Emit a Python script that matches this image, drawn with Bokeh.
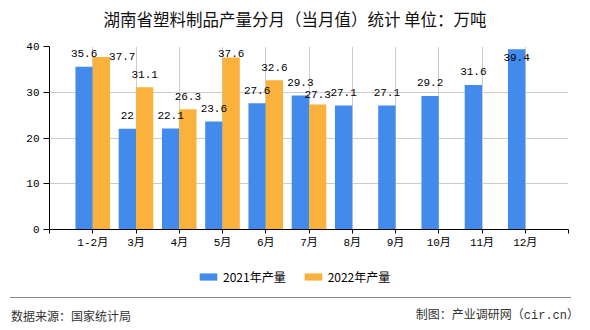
import numpy as np
from bokeh.plotting import figure
from bokeh.layouts import column
from bokeh.models import (ColumnDataSource, LabelSet, Legend, LegendItem, FixedTicker, Div)
from bokeh.core.properties import value
from bokeh.embed import file_html
from bokeh.resources import INLINE

# ---------------- data ----------------
categories = ["1-2月", "3月", "4月", "5月", "6月", "7月", "8月", "9月", "10月", "11月", "12月"]
values_2021 = [35.6, 22.0, 22.1, 23.6, 27.6, 29.3, 27.1, 27.1, 29.2, 31.6, 39.4]
values_2022 = [37.7, 31.1, 26.3, 37.6, 32.6, 27.3]
labels_2021 = ["35.6", "22", "22.1", "23.6", "27.6", "29.3", "27.1", "27.1", "29.2", "31.6", "39.4"]
labels_2022 = ["37.7", "31.1", "26.3", "37.6", "32.6", "27.3"]
series_names = ["2021年产量", "2022年产量"]
y_ticks = [0, 10, 20, 30, 40]
title_text = "湖南省塑料制品产量分月（当月值）统计 单位：万吨"
source_text = "数据来源：国家统计局"
credit_text = "制图：产业调研网（cir.cn）"

# ---------------- layout ----------------
W = 590
HEAD_H = 36
LEFT, RIGHT, TOP_B, BOTTOM_B = 49, 22, 10, 25
FRAME_H = 183
MAIN_H = TOP_B + FRAME_H + BOTTOM_B
LEG_H = 43
FOOT_H = 33
XMAX = len(categories) + 1
YMAX = 40
frame_w = W - LEFT - RIGHT
ppx = frame_w / XMAX
ppy = FRAME_H / YMAX
frame_bottom = TOP_B + FRAME_H

BLUE = "#428BEC"
ORANGE = "#FBB23D"
BAR_W = 0.4
CJK = "Noto Sans CJK SC"
MIX = "'Liberation Mono', 'Noto Sans CJK SC'"

# ---------------- header ----------------
head = Div(width=W, height=HEAD_H, margin=0,
           text=(f'<div style="position:relative;width:{W}px;height:{HEAD_H}px;">'
                 f'<div style="position:absolute;left:0;width:{W}px;top:9px;height:20px;'
                 f'line-height:20px;text-align:center;font-family:\'{CJK}\';font-size:16.5px;'
                 f'color:#111111;white-space:nowrap;">{title_text}</div></div>'))

# ---------------- main chart ----------------
p = figure(width=W, height=MAIN_H, x_range=(0, XMAX), y_range=(0, YMAX),
           output_backend="svg", toolbar_location=None,
           min_border_left=LEFT, min_border_right=RIGHT,
           min_border_top=TOP_B, min_border_bottom=BOTTOM_B)
p.outline_line_color = None

idx = np.arange(1, len(categories) + 1)
x21 = idx - BAR_W / 2
x22 = idx[:len(values_2022)] + BAR_W / 2

src21 = ColumnDataSource(dict(x=x21, top=values_2021))
src22 = ColumnDataSource(dict(x=x22, top=values_2022))
r21 = p.vbar(x="x", top="top", width=BAR_W, source=src21, fill_color=BLUE, line_color=None)
r22 = p.vbar(x="x", top="top", width=BAR_W, source=src22, fill_color=ORANGE, line_color=None)

# value labels with simple collision handling (pixel space)
LBL_H = 12
CHAR_W = 6.6
GAP = 13

def bar_top_px(v):
    return frame_bottom - v * ppy

def place(v):
    top_px = bar_top_px(v)
    if top_px - TOP_B < 5:
        return -8.0                       # inside the bar
    centre = top_px - GAP
    if centre - LBL_H / 2 < TOP_B + 1:    # keep inside the frame
        return top_px - (TOP_B + 1 + LBL_H / 2)
    return float(GAP)

yo21 = [place(v) for v in values_2021]
xo21 = [0.0] * len(values_2021)
yo22, xo22 = [], []
for i, v in enumerate(values_2022):
    yo, xo = place(v), 0.0
    bc = bar_top_px(values_2021[i]) - yo21[i]
    oc = bar_top_px(v) - yo
    overlap = LBL_H - abs(bc - oc)
    if overlap > 0:
        if oc < bc:
            xo = BAR_W * ppx / 2 + len(labels_2022[i]) * CHAR_W / 2 - 1
            yo = 1.0
        else:
            yo = yo - overlap
    yo22.append(yo)
    xo22.append(xo)

lsrc21 = ColumnDataSource(dict(x=x21, y=values_2021, t=labels_2021, xo=xo21, yo=yo21))
lsrc22 = ColumnDataSource(dict(x=x22, y=values_2022, t=labels_2022, xo=xo22, yo=yo22))
for s in (lsrc21, lsrc22):
    p.add_layout(LabelSet(x="x", y="y", text="t", source=s, x_offset="xo", y_offset="yo",
                          text_align="center", text_baseline="middle",
                          text_font=value("Liberation Mono"), text_font_size="11px",
                          text_color="black"))

# axes & grid
xa = p.xaxis[0]
xa.ticker = FixedTicker(ticks=list(range(0, XMAX + 1)))
overrides = {0: "", XMAX: ""}
for i, c in enumerate(categories):
    overrides[i + 1] = c
xa.major_label_overrides = overrides
xa.axis_line_color = "black"
xa.major_tick_line_color = "black"
xa.major_tick_in = 0
xa.major_tick_out = 4
xa.minor_tick_line_color = None
xa.major_label_text_font = MIX
xa.major_label_text_font_size = "11px"
xa.major_label_text_color = "black"
xa.major_label_standoff = 3

ya = p.yaxis[0]
ya.ticker = FixedTicker(ticks=y_ticks)
ya.axis_line_color = "black"
ya.major_tick_line_color = "black"
ya.major_tick_in = 0
ya.major_tick_out = 6
ya.minor_tick_line_color = None
ya.major_label_text_font = MIX
ya.major_label_text_font_size = "11px"
ya.major_label_text_color = "black"
ya.major_label_standoff = 4

p.xgrid.ticker = FixedTicker(ticks=list(range(1, XMAX + 1)))
p.ygrid.ticker = FixedTicker(ticks=y_ticks[1:])
p.xgrid.grid_line_color = "#cccccc"
p.ygrid.grid_line_color = "#cccccc"

# ---------------- legend strip ----------------
# the same series are bound here; the ranges lie far away from the data so the
# bars stay out of view and only the legend swatches show
leg = figure(width=W, height=LEG_H, x_range=(1000, 1001), y_range=(1000, 1001),
             output_backend="svg", toolbar_location=None,
             x_axis_type=None, y_axis_type=None,
             min_border_left=LEFT, min_border_right=RIGHT,
             min_border_top=0, min_border_bottom=0)
leg.outline_line_color = None
leg.grid.visible = False
lr21 = leg.vbar(x="x", top="top", width=BAR_W, source=src21, fill_color=BLUE, line_color=None)
lr22 = leg.vbar(x="x", top="top", width=BAR_W, source=src22, fill_color=ORANGE, line_color=None)
legend = Legend(items=[LegendItem(label=series_names[0], renderers=[lr21]),
                       LegendItem(label=series_names[1], renderers=[lr22])],
                orientation="horizontal", location=(197 - LEFT, LEG_H - 32),
                glyph_width=22, glyph_height=9, label_standoff=4, spacing=16,
                padding=0, margin=0, border_line_color=None,
                background_fill_alpha=0, label_text_font=CJK,
                label_text_font_size="12px", label_text_color="black",
                label_height=20)
leg.add_layout(legend)

# ---------------- footer ----------------
txt = "position:absolute;top:11px;height:16px;line-height:16px;font-size:12px;color:#333333;white-space:nowrap;"
foot = Div(width=W, height=FOOT_H, margin=0,
           text=(f'<div style="position:relative;width:{W}px;height:{FOOT_H}px;">'
                 f'<div style="position:absolute;left:10px;top:0;width:561px;height:1px;background:#888888;"></div>'
                 f'<div style="{txt}left:11px;font-family:\'{CJK}\';">{source_text}</div>'
                 f'<div style="{txt}right:{W - 579}px;font-family:\'Liberation Mono\',\'{CJK}\';">{credit_text}</div>'
                 f'</div>'))

layout = column(head, p, leg, foot, spacing=0)
open("out.html", "w").write(file_html(layout, INLINE))
